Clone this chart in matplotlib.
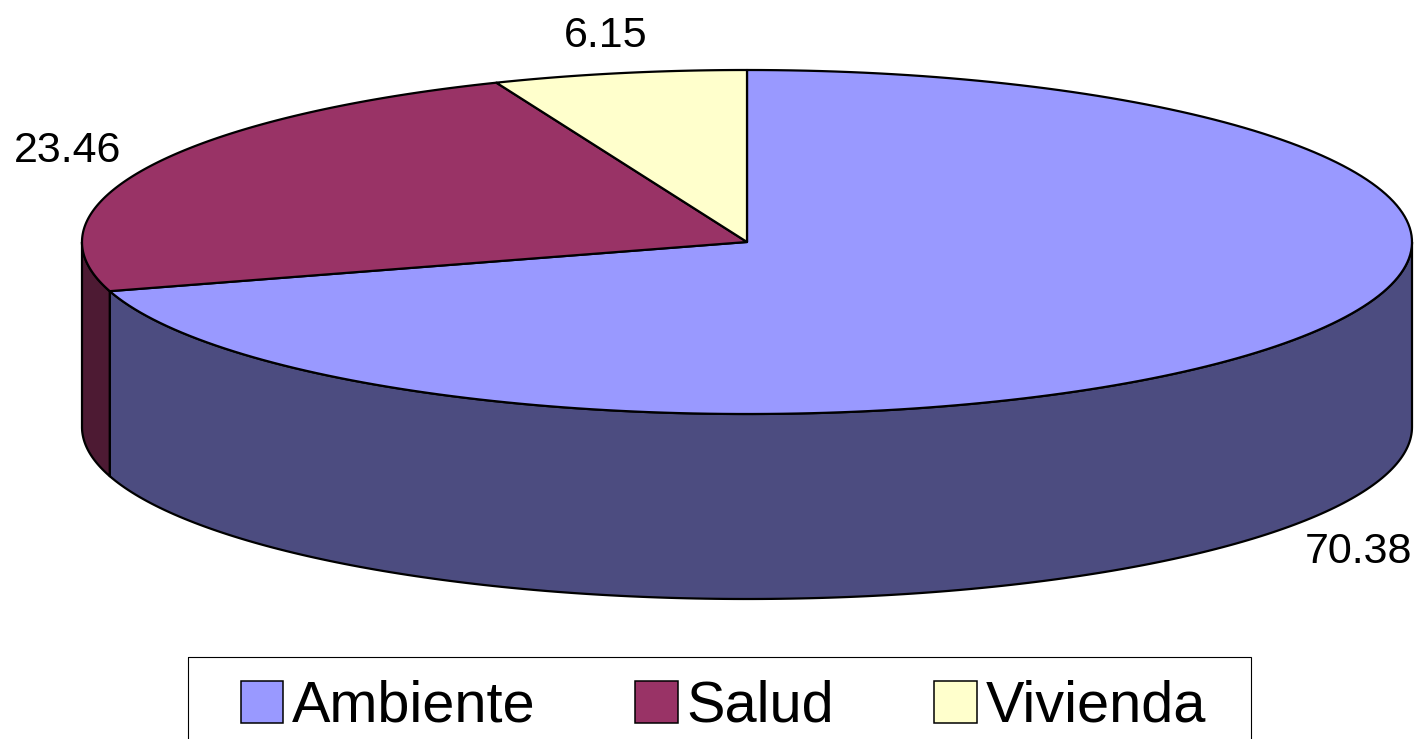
import numpy as np
import matplotlib.pyplot as plt
from matplotlib.patches import Polygon, Patch, Rectangle

labels = ["Ambiente", "Salud", "Vivienda"]
values = [70.38, 23.46, 6.15]
value_text = ["70.38", "23.46", "6.15"]
top_colors = ["#9999FF", "#993366", "#FFFFCC"]
side_colors = ["#4C4C80", "#4D1A33", "#80806A"]

plt.rcParams["font.family"] = ["Liberation Sans", "DejaVu Sans"]

fig = plt.figure(figsize=(14.21, 7.39), dpi=100)
ax = fig.add_axes([0, 0, 1, 1])
ax.set_xlim(0, 1421)
ax.set_ylim(739, 0)
ax.axis("off")

# pie geometry in pixel units (ellipse centre, radii, thickness)
cx, cy = 747, 242
rx, ry = 665, 172
depth = 185


def arc(a, b, dz=0, n=200):
    # angles in degrees, clockwise from 12 o'clock
    t = np.radians(np.linspace(a, b, n))
    return np.column_stack([cx + rx * np.sin(t), cy - ry * np.cos(t) + dz])


angles = np.array(values) / sum(values) * 360
ends = np.cumsum(angles)
starts = ends - angles

# side walls (only the front half is visible)
for a, b, col in zip(starts, ends, side_colors):
    lo, hi = max(a, 90), min(b, 270)
    if lo >= hi:
        continue
    pts = np.vstack([arc(lo, hi), arc(lo, hi, depth)[::-1]])
    ax.add_patch(Polygon(pts, closed=True, facecolor=col, edgecolor="black",
                         lw=1.6, joinstyle="round", zorder=1))

# top faces
for a, b, col in zip(starts, ends, top_colors):
    pts = np.vstack([[[cx, cy]], arc(a, b)])
    ax.add_patch(Polygon(pts, closed=True, facecolor=col, edgecolor="black",
                         lw=1.6, joinstyle="round", zorder=2))

# value labels outside the slices
for a, b, txt in zip(starts, ends, value_text):
    m = np.radians((a + b) / 2)
    x = cx + 758 * np.sin(m) + 4
    y = cy - 210 * np.cos(m)
    if np.cos(m) < 0:
        y += depth
    ax.text(x, y, txt, fontsize=31, ha="center", va="center", zorder=3)

# legend box (open at the bottom edge of the image)
ax.add_patch(Rectangle((188, 657), 1063, 200, facecolor="none",
                       edgecolor="black", lw=0.8, zorder=3))

handles = [Patch(facecolor=c, edgecolor="black", lw=1.1) for c in top_colors]
leg = fig.legend(handles, labels, loc="upper left",
                 bbox_to_anchor=(212 / 1421, 1 - 651 / 739), ncol=3,
                 fontsize=41.5, frameon=False,
                 handlelength=0.74, handleheight=0.74, handletextpad=0.15,
                 columnspacing=1.73, borderpad=0.5, borderaxespad=0)

fig.savefig("out.png", dpi=100)
